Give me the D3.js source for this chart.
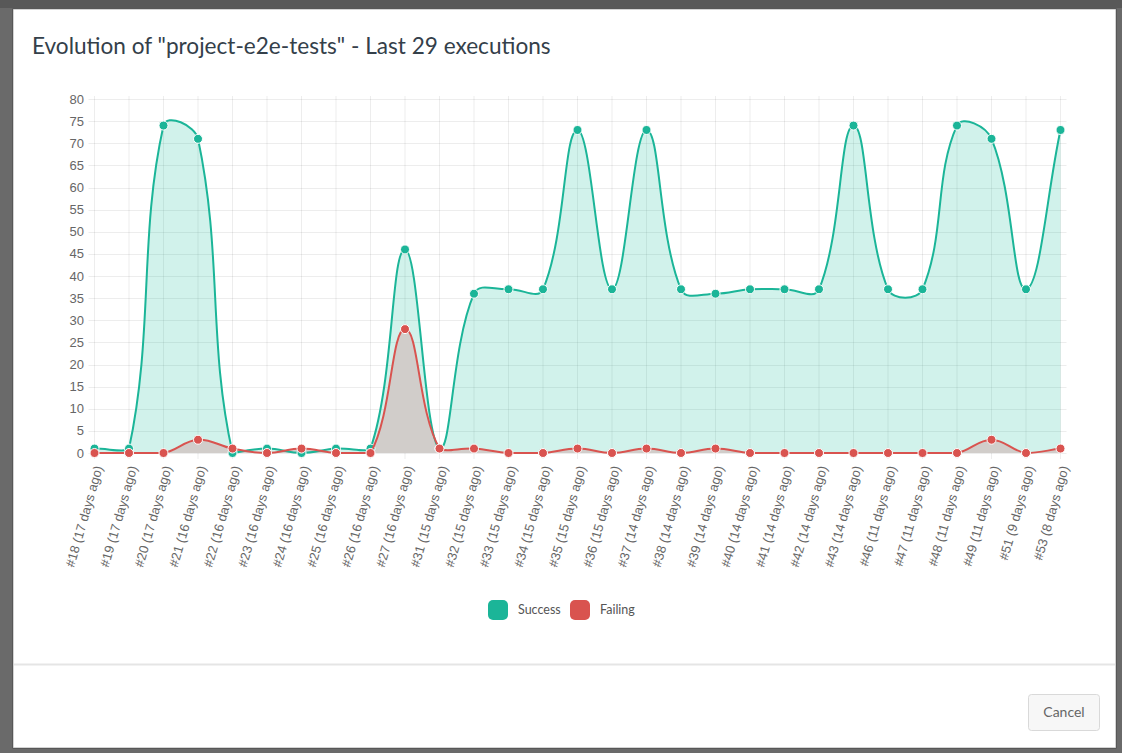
<!DOCTYPE html>
<html>
<head>
<meta charset="utf-8">
<script src="https://cdn.jsdelivr.net/npm/d3@7"></script>
<style>
  html, body { margin: 0; padding: 0; background: #666; }
  svg { display: block; }
</style>
</head>
<body>
<svg id="chart"></svg>
<script>
const labels = [
  "#18 (17 days ago)", "#19 (17 days ago)", "#20 (17 days ago)", "#21 (16 days ago)",
  "#22 (16 days ago)", "#23 (16 days ago)", "#24 (16 days ago)", "#25 (16 days ago)",
  "#26 (16 days ago)", "#27 (16 days ago)", "#31 (15 days ago)", "#32 (15 days ago)",
  "#33 (15 days ago)", "#34 (15 days ago)", "#35 (15 days ago)", "#36 (15 days ago)",
  "#37 (14 days ago)", "#38 (14 days ago)", "#39 (14 days ago)", "#40 (14 days ago)",
  "#41 (14 days ago)", "#42 (14 days ago)", "#43 (14 days ago)", "#46 (11 days ago)",
  "#47 (11 days ago)", "#48 (11 days ago)", "#49 (11 days ago)", "#51 (9 days ago)",
  "#53 (8 days ago)"
];
const success = [1, 1, 74, 71, 0, 1, 0, 1, 1, 46, 1, 36, 37, 37, 73, 37, 73, 37, 36, 37, 37, 37, 74, 37, 37, 74, 71, 37, 73];
const failing = [0, 0, 0, 3, 1, 0, 1, 0, 0, 28, 1, 1, 0, 0, 1, 0, 1, 0, 1, 0, 0, 0, 0, 0, 0, 0, 3, 0, 1];
const yTicks = [0, 5, 10, 15, 20, 25, 30, 35, 40, 45, 50, 55, 60, 65, 70, 75, 80];
const seriesNames = ["Success", "Failing"];

const width = 1122;
const height = 753;
const area = { left: 94.5, right: 1060.5, top: 99, bottom: 453 };

const teal = "#1bb598";
const red = "#d9534f";

const svg = d3.select("#chart")
  .attr("width", width)
  .attr("height", height);

// backdrop + modal
svg.append("rect").attr("width", width).attr("height", height).attr("fill", "#6a6a6a");
svg.append("rect").attr("x", 0).attr("y", 0).attr("width", width).attr("height", 8).attr("fill", "#585858");
svg.append("rect")
  .attr("x", 13).attr("y", 9).attr("width", 1103).attr("height", 739)
  .attr("fill", "#fff").attr("stroke", "rgba(0,0,0,0.35)");
svg.append("line")
  .attr("x1", 14).attr("x2", 1115).attr("y1", 664.5).attr("y2", 664.5)
  .attr("stroke", "#e5e5e5").attr("stroke-width", 2);

svg.append("text")
  .attr("x", 32).attr("y", 54)
  .attr("font-family", "Lato, sans-serif")
  .attr("font-size", 22.6)
  .attr("fill", "#34404a")
  .text('Evolution of "project-e2e-tests" - Last 29 executions');

// cancel button
svg.append("rect")
  .attr("x", 1028.5).attr("y", 694.5).attr("width", 71).attr("height", 36).attr("rx", 3)
  .attr("fill", "#f7f7f7").attr("stroke", "#d9d9d9");
svg.append("text")
  .attr("x", 1064).attr("y", 717)
  .attr("text-anchor", "middle")
  .attr("font-family", "Lato, sans-serif")
  .attr("font-size", 14)
  .attr("fill", "#666")
  .text("Cancel");

// scales
const x = d3.scalePoint().domain(labels).range([area.left, area.right]);
const y = d3.scaleLinear().domain([0, 80]).range([area.bottom, area.top]);

// Chart.js style bezier (tension 0.4, control points capped to chart area)
function chartCurve(t) {
  const cx = v => Math.max(area.left, Math.min(area.right, v));
  const cy = v => Math.max(area.top, Math.min(area.bottom, v));
  return function(context) {
    return {
      areaStart() { this._line = 0; },
      areaEnd() { this._line = NaN; },
      lineStart() { this._pts = []; },
      point(px, py) { this._pts.push([+px, +py]); },
      lineEnd() {
        const p = this._pts, n = p.length;
        if (n) {
          if (this._line) context.lineTo(p[0][0], p[0][1]);
          else context.moveTo(p[0][0], p[0][1]);
          const cps = p.map((c, i) => {
            const a = p[i - 1] || c, b = p[i + 1] || c;
            const d01 = Math.hypot(c[0] - a[0], c[1] - a[1]);
            const d12 = Math.hypot(b[0] - c[0], b[1] - c[1]);
            let s01 = d01 / (d01 + d12), s12 = d12 / (d01 + d12);
            if (isNaN(s01)) s01 = 0;
            if (isNaN(s12)) s12 = 0;
            const fa = t * s01, fb = t * s12;
            return {
              pin: [cx(c[0] - fa * (b[0] - a[0])), cy(c[1] - fa * (b[1] - a[1]))],
              pout: [cx(c[0] + fb * (b[0] - a[0])), cy(c[1] + fb * (b[1] - a[1]))]
            };
          });
          for (let i = 1; i < n; i++) {
            context.bezierCurveTo(cps[i - 1].pout[0], cps[i - 1].pout[1], cps[i].pin[0], cps[i].pin[1], p[i][0], p[i][1]);
          }
        }
        if (this._line || (this._line !== 0 && n === 1)) context.closePath();
        this._line = 1 - this._line;
      }
    };
  };
}
const curve = chartCurve(0.4);

// grid
const grid = svg.append("g");
grid.selectAll(".hgrid")
  .data(yTicks)
  .enter()
  .append("line")
  .attr("x1", area.left - 6).attr("x2", area.right + 6)
  .attr("y1", d => Math.round(y(d)) + 0.5).attr("y2", d => Math.round(y(d)) + 0.5)
  .attr("stroke", "rgba(0,0,0,0.07)");
grid.selectAll(".vgrid")
  .data(labels)
  .enter()
  .append("line")
  .attr("x1", d => x(d)).attr("x2", d => x(d))
  .attr("y1", area.top - 3).attr("y2", area.bottom + 6)
  .attr("stroke", "rgba(0,0,0,0.07)");

// y labels
svg.append("g").selectAll("text")
  .data(yTicks)
  .enter()
  .append("text")
  .attr("x", 84)
  .attr("y", d => y(d))
  .attr("dy", "0.35em")
  .attr("text-anchor", "end")
  .attr("font-family", "Liberation Sans, Arial, sans-serif")
  .attr("font-size", 13)
  .attr("fill", "#666")
  .text(d => d);

// x labels
svg.append("g").selectAll("text")
  .data(labels)
  .enter()
  .append("text")
  .attr("transform", d => `translate(${x(d) + 4}, 466) rotate(-74)`)
  .attr("text-anchor", "end")
  .attr("dy", "0.35em")
  .attr("font-family", "Liberation Sans, Arial, sans-serif")
  .attr("font-size", 13)
  .attr("fill", "#666")
  .text(d => d);

// fills
const areaGen = values => d3.area()
  .x((d, i) => x(labels[i]))
  .y0(area.bottom)
  .y1(d => y(d))
  .curve(curve)(values);
const lineGen = values => d3.line()
  .x((d, i) => x(labels[i]))
  .y(d => y(d))
  .curve(curve)(values);

svg.append("path").attr("d", areaGen(success)).attr("fill", "rgba(26,188,156,0.2)");
svg.append("path").attr("d", areaGen(failing)).attr("fill", "#d1cdca");

// lines and points
[[success, teal], [failing, red]].forEach(([values, color]) => {
  svg.append("path")
    .attr("d", lineGen(values))
    .attr("fill", "none")
    .attr("stroke", color)
    .attr("stroke-width", 2);
  svg.append("g").selectAll("circle")
    .data(values)
    .enter()
    .append("circle")
    .attr("cx", (d, i) => x(labels[i]))
    .attr("cy", d => y(d))
    .attr("r", 4.5)
    .attr("fill", color)
    .attr("stroke", "#fff")
    .attr("stroke-width", 1);
});

// legend
const legendX = [488, 570];
const legend = svg.append("g").selectAll("g")
  .data(seriesNames)
  .enter()
  .append("g")
  .attr("transform", (d, i) => `translate(${legendX[i]}, 600)`);
legend.append("rect")
  .attr("width", 20).attr("height", 20).attr("rx", 5)
  .attr("fill", (d, i) => i === 0 ? teal : red);
legend.append("text")
  .attr("x", 30).attr("y", 14)
  .attr("font-family", "Lato, sans-serif")
  .attr("font-size", 12.5)
  .attr("fill", "#555")
  .text(d => d);
</script>
</body>
</html>
